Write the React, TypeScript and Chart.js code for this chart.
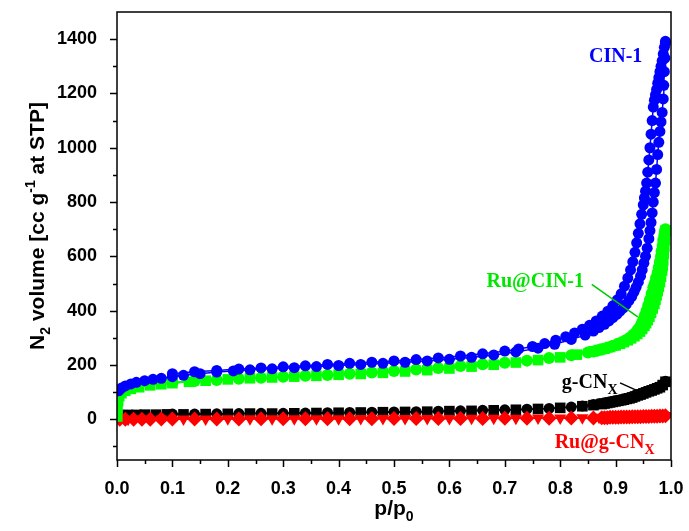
import { useEffect, useRef } from "react";
import { Chart, registerables } from "chart.js";

Chart.register(...registerables);

// ---------- data: [p/p0, volume] ----------
const cin1Ads: number[][] = [
  [0.003, 105], [0.008, 115], [0.015, 123], [0.025, 130], [0.035, 136], [0.05, 142], [0.065, 147], [0.08, 151],
  [0.1, 157], [0.12, 162], [0.15, 168], [0.18, 174], [0.21, 178], [0.24, 182], [0.28, 186], [0.32, 190],
  [0.36, 194], [0.4, 198], [0.44, 202], [0.48, 206], [0.52, 210], [0.56, 215], [0.6, 221], [0.64, 228],
  [0.68, 237], [0.72, 248], [0.76, 262], [0.79, 276], [0.82, 294], [0.845, 310], [0.86, 325], [0.87, 338],
  [0.88, 350], [0.888, 362], [0.895, 374], [0.902, 386], [0.908, 398], [0.914, 410], [0.919, 423], [0.924, 437],
  [0.929, 452], [0.933, 468], [0.937, 486], [0.941, 505], [0.945, 527], [0.948, 550], [0.951, 575], [0.954, 600],
  [0.957, 630], [0.96, 665], [0.962, 695], [0.964, 725], [0.966, 760], [0.968, 800], [0.97, 835], [0.972, 870],
  [0.974, 920], [0.976, 975], [0.978, 1020], [0.98, 1060], [0.982, 1095], [0.984, 1130], [0.986, 1180], [0.987, 1230],
  [0.988, 1280], [0.989, 1330], [0.99, 1385],
];
const cin1Des: number[][] = [
  [0.99, 1392], [0.988, 1370], [0.986, 1345], [0.984, 1320], [0.982, 1300], [0.98, 1280], [0.978, 1258], [0.976, 1238],
  [0.974, 1215], [0.972, 1195], [0.97, 1175], [0.968, 1150], [0.966, 1100], [0.964, 1050], [0.962, 1000], [0.96, 955],
  [0.958, 910], [0.956, 870], [0.954, 840], [0.952, 815], [0.95, 790], [0.947, 755], [0.944, 720], [0.941, 685],
  [0.938, 650], [0.935, 615], [0.931, 580], [0.927, 550], [0.922, 520], [0.916, 490], [0.91, 462], [0.903, 440],
  [0.895, 418], [0.886, 398], [0.876, 380], [0.865, 362], [0.853, 346], [0.84, 332], [0.826, 318], [0.81, 304],
  [0.792, 291], [0.772, 279], [0.75, 268], [0.725, 259], [0.7, 251], [0.66, 241], [0.62, 233], [0.58, 226],
  [0.54, 220], [0.5, 215], [0.46, 210], [0.42, 206], [0.38, 202], [0.34, 197], [0.3, 193], [0.26, 189],
  [0.22, 185], [0.18, 180], [0.14, 175], [0.1, 168],
];
const ruCin1Ads: number[][] = [
  [0.0005, 10], [0.001, 40], [0.002, 68], [0.004, 85], [0.008, 96], [0.015, 105], [0.025, 112], [0.04, 118],
  [0.06, 125], [0.08, 129], [0.1, 133], [0.13, 138], [0.16, 142], [0.2, 147], [0.24, 151], [0.28, 154],
  [0.32, 157], [0.36, 160], [0.4, 164], [0.44, 167], [0.48, 171], [0.52, 176], [0.56, 181], [0.6, 187],
  [0.64, 194], [0.68, 201], [0.72, 209], [0.76, 218], [0.8, 228], [0.83, 238], [0.86, 250], [0.87, 255],
  [0.88, 260], [0.89, 266], [0.9, 272], [0.908, 278], [0.915, 284], [0.922, 291], [0.928, 298], [0.934, 306],
  [0.939, 314], [0.944, 323], [0.948, 333], [0.952, 344], [0.955, 354], [0.958, 365], [0.961, 378], [0.964, 392],
  [0.967, 408], [0.97, 425], [0.972, 440], [0.974, 456], [0.976, 472], [0.978, 488], [0.98, 505], [0.982, 525],
  [0.984, 548], [0.985, 565], [0.986, 585], [0.987, 610], [0.988, 635], [0.989, 660], [0.99, 695],
];
const ruCin1Des: number[][] = [
  [0.99, 700], [0.989, 690], [0.988, 678], [0.986, 660], [0.985, 640], [0.983, 620], [0.982, 600], [0.98, 580],
  [0.978, 560], [0.976, 540], [0.973, 520], [0.971, 502], [0.968, 485], [0.965, 462], [0.962, 440], [0.959, 420],
  [0.956, 400], [0.953, 383], [0.95, 367], [0.947, 353], [0.944, 340], [0.94, 330], [0.937, 320], [0.932, 311],
  [0.928, 303], [0.923, 296], [0.918, 290], [0.912, 284], [0.905, 278], [0.898, 272], [0.89, 266], [0.88, 260],
  [0.87, 255], [0.86, 250], [0.85, 246], [0.82, 236], [0.78, 226], [0.74, 216], [0.7, 208], [0.66, 203],
  [0.62, 196], [0.58, 189], [0.54, 183], [0.5, 178], [0.46, 172], [0.42, 168], [0.38, 163], [0.34, 160],
  [0.3, 157], [0.26, 153], [0.22, 149], [0.18, 145], [0.14, 141], [0.1, 136],
];
const gcnAds: number[][] = [
  [0.001, 8], [0.004, 13], [0.01, 15], [0.02, 16], [0.035, 16], [0.05, 17], [0.07, 17], [0.09, 18],
  [0.12, 18], [0.16, 19], [0.2, 20], [0.24, 21], [0.28, 21], [0.32, 22], [0.36, 23], [0.4, 24],
  [0.44, 25], [0.48, 26], [0.52, 27], [0.56, 28], [0.6, 30], [0.64, 31], [0.68, 33], [0.72, 35],
  [0.76, 38], [0.8, 42], [0.84, 48], [0.86, 52], [0.875, 56], [0.88, 58], [0.885, 60], [0.89, 62],
  [0.895, 64], [0.9, 66], [0.905, 68], [0.91, 70], [0.915, 72], [0.92, 75], [0.925, 77], [0.93, 80],
  [0.935, 84], [0.94, 88], [0.945, 91], [0.95, 95], [0.955, 99], [0.96, 103], [0.965, 106], [0.97, 110],
  [0.975, 114], [0.98, 118], [0.985, 126], [0.99, 138],
];
const gcnDes: number[][] = [
  [0.99, 140], [0.987, 130], [0.983, 124], [0.98, 121], [0.977, 118], [0.973, 115], [0.97, 112], [0.967, 109],
  [0.963, 107], [0.96, 105], [0.957, 102], [0.953, 100], [0.95, 97], [0.947, 95], [0.943, 92], [0.94, 90],
  [0.937, 87], [0.933, 84], [0.93, 82], [0.925, 80], [0.92, 77], [0.915, 75], [0.91, 72], [0.905, 70],
  [0.9, 68], [0.895, 66], [0.89, 64], [0.885, 62], [0.88, 60], [0.87, 57], [0.86, 54], [0.84, 49],
  [0.82, 45], [0.78, 40], [0.74, 37], [0.7, 35], [0.66, 33], [0.62, 31], [0.58, 30], [0.54, 28],
  [0.5, 27], [0.46, 26], [0.42, 25], [0.38, 24], [0.34, 23], [0.3, 22], [0.26, 22], [0.22, 21],
  [0.18, 20], [0.14, 19], [0.1, 19],
];
const ruGcnAds: number[][] = [
  [0.005, 0], [0.015, 0], [0.03, 0], [0.045, 0], [0.06, 0], [0.08, 1], [0.1, 1], [0.14, 1],
  [0.18, 1], [0.22, 1], [0.26, 2], [0.3, 2], [0.34, 2], [0.38, 2], [0.42, 2], [0.46, 2],
  [0.5, 3], [0.54, 3], [0.58, 3], [0.62, 3], [0.66, 3], [0.7, 4], [0.74, 4], [0.78, 4],
  [0.82, 5], [0.86, 5], [0.875, 6], [0.88, 6], [0.885, 6], [0.89, 7], [0.895, 7], [0.9, 7],
  [0.905, 7], [0.91, 8], [0.915, 8], [0.92, 8], [0.925, 8], [0.93, 9], [0.935, 9], [0.94, 9],
  [0.945, 9], [0.95, 10], [0.955, 10], [0.96, 10], [0.965, 11], [0.97, 11], [0.975, 11], [0.98, 12],
  [0.985, 12], [0.99, 13],
];
const ruGcnDes: number[][] = [
  [0.99, 14], [0.98, 13], [0.97, 12], [0.96, 12], [0.95, 11], [0.94, 10], [0.93, 10], [0.92, 9],
  [0.91, 9], [0.9, 8], [0.89, 8], [0.87, 7], [0.84, 6], [0.8, 5], [0.76, 5], [0.72, 4],
  [0.68, 4], [0.64, 4], [0.6, 3], [0.56, 3], [0.52, 3], [0.48, 3], [0.44, 3], [0.4, 2],
  [0.36, 2], [0.32, 2], [0.28, 2], [0.24, 2], [0.2, 2], [0.16, 1], [0.12, 1], [0.08, 1],
  [0.045, 1], [0.02, 0],
];

// ---------- axes ----------
const yMajorTicks = [0, 200, 400, 600, 800, 1000, 1200, 1400];
const yMinorTicks = [-100, 100, 300, 500, 700, 900, 1100, 1300];
const xMajorTicks = [0, 0.1, 0.2, 0.3, 0.4, 0.5, 0.6, 0.7, 0.8, 0.9, 1.0];
const xMinorTicks = [0.05, 0.15, 0.25, 0.35, 0.45, 0.55, 0.65, 0.75, 0.85, 0.95];

// ---------- annotations ----------
const labels = [
  { parts: [{ t: "CIN-1" }], x: 0.852, y: 1343, color: "#0000ff" },
  { parts: [{ t: "Ru@CIN-1" }], x: 0.667, y: 513, color: "#00e600" },
  { parts: [{ t: "g-CN" }, { t: "X", sub: true }], x: 0.803, y: 141, color: "#000000" },
  { parts: [{ t: "Ru@g-CN" }, { t: "X", sub: true }], x: 0.79, y: -80, color: "#ff0000" },
];
const leaders = [
  { from: [0.857, 497], to: [0.94, 377], color: "#00c800" },
  { from: [0.908, 134], to: [0.948, 97], color: "#000000" },
];

const SANS = '"Liberation Sans", Arial, sans-serif';
const SERIF = '"Liberation Serif", "Times New Roman", serif';

type Part = { t: string; sub?: boolean; sup?: boolean };

function drawRich(ctx: CanvasRenderingContext2D, parts: Part[], x: number, y: number, size: number, family: string, align: "left" | "center") {
  const small = Math.round(size * 0.68);
  const widths = parts.map((p) => {
    ctx.font = `bold ${p.sub || p.sup ? small : size}px ${family}`;
    return ctx.measureText(p.t).width;
  });
  const total = widths.reduce((a, b) => a + b, 0);
  let cx = align === "center" ? x - total / 2 : x;
  ctx.textBaseline = "alphabetic";
  ctx.textAlign = "left";
  parts.forEach((p, i) => {
    ctx.font = `bold ${p.sub || p.sup ? small : size}px ${family}`;
    const dy = p.sub ? size * 0.28 : p.sup ? -size * 0.45 : 0;
    ctx.fillText(p.t, cx, y + dy);
    cx += widths[i];
  });
}

const decorPlugin = {
  id: "decor",
  afterDraw(chart: any) {
    const { ctx, chartArea: a, scales } = chart;
    const xs = scales.x;
    const ys = scales.y;
    ctx.save();
    ctx.strokeStyle = "#000";
    ctx.lineWidth = 1.5;
    ctx.strokeRect(a.left, a.top, a.right - a.left, a.bottom - a.top);
    ctx.beginPath();
    yMajorTicks.forEach((v) => {
      const py = Math.round(ys.getPixelForValue(v)) + 0.5;
      ctx.moveTo(a.left - 7, py);
      ctx.lineTo(a.left, py);
    });
    yMinorTicks.forEach((v) => {
      const py = Math.round(ys.getPixelForValue(v)) + 0.5;
      ctx.moveTo(a.left - 4, py);
      ctx.lineTo(a.left, py);
    });
    xMajorTicks.forEach((v) => {
      const px = Math.round(xs.getPixelForValue(v)) + 0.5;
      ctx.moveTo(px, a.bottom);
      ctx.lineTo(px, a.bottom + 7);
    });
    xMinorTicks.forEach((v) => {
      const px = Math.round(xs.getPixelForValue(v)) + 0.5;
      ctx.moveTo(px, a.bottom);
      ctx.lineTo(px, a.bottom + 4);
    });
    ctx.stroke();

    leaders.forEach((l) => {
      ctx.beginPath();
      ctx.strokeStyle = l.color;
      ctx.lineWidth = 1.5;
      ctx.moveTo(xs.getPixelForValue(l.from[0]), ys.getPixelForValue(l.from[1]));
      ctx.lineTo(xs.getPixelForValue(l.to[0]), ys.getPixelForValue(l.to[1]));
      ctx.stroke();
    });

    labels.forEach((lb) => {
      ctx.fillStyle = lb.color;
      drawRich(ctx, lb.parts, xs.getPixelForValue(lb.x), ys.getPixelForValue(lb.y) + 7, 20, SERIF, "left");
    });

    ctx.fillStyle = "#000";
    drawRich(ctx, [{ t: "p/p" }, { t: "0", sub: true }], (a.left + a.right) / 2, 515, 21, SANS, "center");
    ctx.translate(44, (a.top + a.bottom) / 2 - 10);
    ctx.rotate(-Math.PI / 2);
    drawRich(
      ctx,
      [{ t: "N" }, { t: "2", sub: true }, { t: " volume [cc g" }, { t: "-1", sup: true }, { t: " at STP]" }],
      0,
      0,
      21,
      SANS,
      "center"
    );
    ctx.restore();
  },
};

function ds(label: string, pts: number[][], color: string, style: string, radius: number, rotation = 0) {
  return {
    label,
    data: pts.map((p) => ({ x: p[0], y: p[1] })),
    borderColor: color,
    backgroundColor: color,
    borderWidth: 1.5,
    pointStyle: style,
    pointRadius: radius,
    pointRotation: rotation,
    pointBorderWidth: 0,
    pointBackgroundColor: color,
    tension: 0,
    fill: false,
  };
}

export default function App() {
  const ref = useRef<HTMLCanvasElement | null>(null);
  useEffect(() => {
    if (!ref.current) return;
    const chart = new Chart(ref.current, {
      type: "line",
      data: {
        datasets: [
          ds("CIN-1 ads", cin1Ads, "#0000ff", "circle", 5.5),
          ds("CIN-1 des", cin1Des, "#0000ff", "circle", 5.5),
          ds("Ru@CIN-1 ads", ruCin1Ads, "#00ff00", "rect", 7.5),
          ds("Ru@CIN-1 des", ruCin1Des, "#00ff00", "circle", 6),
          ds("Ru@g-CNx ads", ruGcnAds, "#ff0000", "rectRot", 7.5),
          ds("Ru@g-CNx des", ruGcnDes, "#ff0000", "triangle", 7, 180),
          ds("g-CNx ads", gcnAds, "#000000", "rect", 7.5),
          ds("g-CNx des", gcnDes, "#000000", "circle", 5.5),
        ] as any,
      },
      options: {
        responsive: false,
        animation: false,
        devicePixelRatio: 1,
        layout: { padding: { top: 12, right: 18, left: 0, bottom: 0 } },
        plugins: { legend: { display: false }, tooltip: { enabled: false } },
        scales: {
          x: {
            type: "linear",
            min: 0,
            max: 1,
            afterFit: (s: any) => {
              s.height = 71;
              s.paddingLeft = 0;
              s.paddingRight = 0;
            },
            afterBuildTicks: (s: any) => {
              s.ticks = xMajorTicks.map((v) => ({ value: v }));
            },
            ticks: {
              padding: 10,
              color: "#000",
              font: { family: SANS, size: 18, weight: "bold" },
              callback: (v: any) => Number(v).toFixed(1),
              maxRotation: 0,
              autoSkip: false,
            },
            grid: { display: false },
            border: { display: false },
          },
          y: {
            type: "linear",
            min: -150,
            max: 1500,
            afterFit: (s: any) => {
              s.width = 117;
              s.paddingTop = 0;
              s.paddingBottom = 0;
            },
            afterBuildTicks: (s: any) => {
              s.ticks = yMajorTicks.map((v) => ({ value: v }));
            },
            ticks: {
              padding: 12,
              color: "#000",
              font: { family: SANS, size: 18, weight: "bold" },
              callback: (v: any) => String(v),
              autoSkip: false,
            },
            grid: { display: false },
            border: { display: false },
          },
        },
      } as any,
      plugins: [decorPlugin],
    });
    return () => chart.destroy();
  }, []);
  return (
    <div style={{ position: "absolute", left: 0, top: 0, width: 689, height: 531, background: "#fff" }}>
      <canvas ref={ref} width={689} height={531} />
    </div>
  );
}
